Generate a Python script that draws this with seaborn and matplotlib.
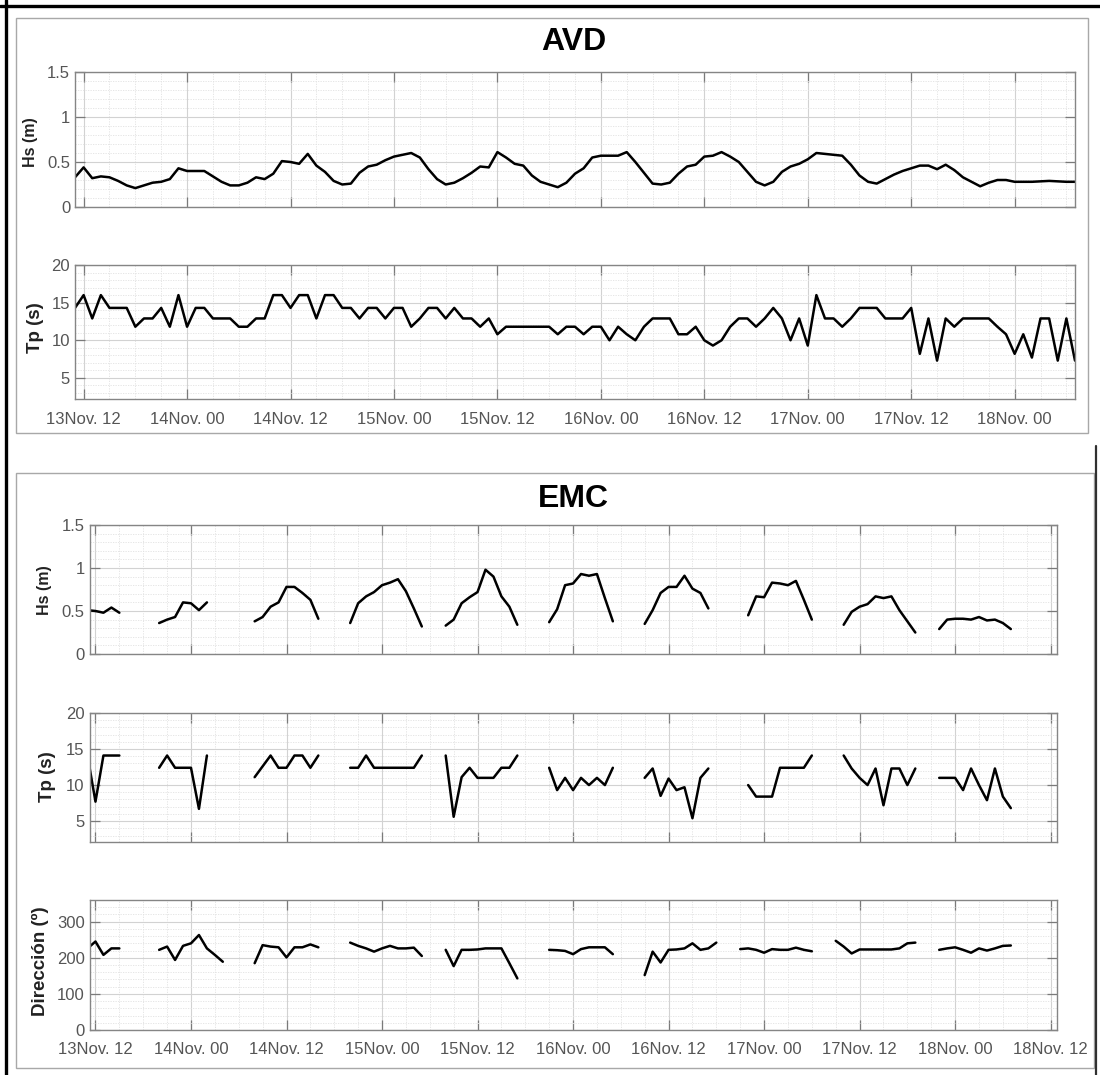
import numpy as np
import pandas as pd
import matplotlib
matplotlib.use("Agg")
import matplotlib.pyplot as plt
import matplotlib.dates as mdates
from matplotlib.ticker import MultipleLocator, FuncFormatter
from matplotlib.lines import Line2D
from matplotlib.patches import Rectangle
import seaborn as sns

# ------------------------------------------------------------------ data
ref_time = pd.Timestamp("2012-11-13 12:00")   # hour 0 = 13Nov. 12
avd_start_hour = -1                              # hourly series

avd_hs = [0.33, 0.44, 0.32, 0.34, 0.33, 0.29, 0.24, 0.21, 0.24, 0.27, 0.28, 0.31,
          0.43, 0.40, 0.40, 0.40, 0.34, 0.28, 0.24, 0.24, 0.27, 0.33, 0.31, 0.37,
          0.51, 0.50, 0.48, 0.59, 0.46, 0.39, 0.29, 0.25, 0.26, 0.38, 0.45, 0.47,
          0.52, 0.56, 0.58, 0.60, 0.55, 0.42, 0.31, 0.25, 0.27, 0.32, 0.38, 0.45,
          0.44, 0.61, 0.55, 0.48, 0.46, 0.35, 0.28, 0.25, 0.22, 0.27, 0.37, 0.43,
          0.55, 0.57, 0.57, 0.57, 0.61, 0.50, 0.38, 0.26, 0.25, 0.27, 0.37, 0.45,
          0.47, 0.56, 0.57, 0.61, 0.56, 0.50, 0.39, 0.28, 0.24, 0.28, 0.39, 0.45,
          0.48, 0.53, 0.60, 0.59, 0.58, 0.57, 0.47, 0.35, 0.28, 0.26, 0.31, 0.36,
          0.40, 0.43, 0.46, 0.46, 0.42, 0.47, 0.41, 0.33, 0.28, 0.23, 0.27, 0.30,
          0.30, 0.28, 0.28, 0.28, 0.285, 0.29, 0.285, 0.28, 0.28]

avd_tp = [14.3, 16.0, 12.9, 16.0, 14.3, 14.3, 14.3, 11.8, 12.9, 12.9, 14.3, 11.8,
          16.0, 11.8, 14.3, 14.3, 12.9, 12.9, 12.9, 11.8, 11.8, 12.9, 12.9, 16.0,
          16.0, 14.3, 16.0, 16.0, 12.9, 16.0, 16.0, 14.3, 14.3, 12.9, 14.3, 14.3,
          12.9, 14.3, 14.3, 11.8, 12.9, 14.3, 14.3, 12.9, 14.3, 12.9, 12.9, 11.8,
          12.9, 10.8, 11.8, 11.8, 11.8, 11.8, 11.8, 11.8, 10.8, 11.8, 11.8, 10.8,
          11.8, 11.8, 10.0, 11.8, 10.8, 10.0, 11.8, 12.9, 12.9, 12.9, 10.8, 10.8,
          11.8, 10.0, 9.3, 10.0, 11.8, 12.9, 12.9, 11.8, 12.9, 14.3, 12.9, 10.0,
          12.9, 9.3, 16.0, 12.9, 12.9, 11.8, 12.9, 14.3, 14.3, 14.3, 12.9, 12.9,
          12.9, 14.3, 8.2, 12.9, 7.3, 12.9, 11.8, 12.9, 12.9, 12.9, 12.9, 11.8,
          10.8, 8.2, 10.8, 7.7, 12.9, 12.9, 7.3, 12.9, 7.3]

# EMC: hourly bursts (one per low tide); start hour of each burst
emc_starts = [-1, 8, 20, 32, 44, 57, 69, 82, 94, 106]
emc_hs = [
    [0.51, 0.50, 0.48, 0.54, 0.48],
    [0.36, 0.40, 0.43, 0.60, 0.59, 0.51, 0.60],
    [0.38, 0.43, 0.55, 0.60, 0.78, 0.78, 0.71, 0.63, 0.41],
    [0.36, 0.59, 0.67, 0.72, 0.80, 0.83, 0.87, 0.73, 0.53, 0.32],
    [0.33, 0.40, 0.59, 0.66, 0.72, 0.98, 0.90, 0.67, 0.55, 0.34],
    [0.37, 0.52, 0.80, 0.82, 0.93, 0.91, 0.93, 0.65, 0.38],
    [0.35, 0.51, 0.71, 0.78, 0.78, 0.91, 0.76, 0.71, 0.53],
    [0.45, 0.67, 0.66, 0.83, 0.82, 0.80, 0.85, 0.63, 0.40],
    [0.34, 0.49, 0.55, 0.58, 0.67, 0.65, 0.67, 0.51, 0.38, 0.25],
    [0.29, 0.40, 0.41, 0.41, 0.40, 0.43, 0.39, 0.40, 0.36, 0.29],
]
emc_tp = [
    [14.1, 7.7, 14.1, 14.1, 14.1],
    [12.4, 14.1, 12.4, 12.4, 12.4, 6.7, 14.1],
    [11.1, 12.6, 14.1, 12.4, 12.4, 14.1, 14.1, 12.4, 14.1],
    [12.4, 12.4, 14.1, 12.4, 12.4, 12.4, 12.4, 12.4, 12.4, 14.1],
    [14.1, 5.6, 11.1, 12.4, 11.0, 11.0, 11.0, 12.4, 12.4, 14.1],
    [12.4, 9.3, 11.0, 9.3, 11.0, 10.0, 11.0, 10.0, 12.4],
    [11.0, 12.3, 8.5, 10.9, 9.3, 9.7, 5.4, 11.0, 12.3],
    [10.0, 8.4, 8.4, 8.4, 12.4, 12.4, 12.4, 12.4, 14.1],
    [14.1, 12.3, 11.0, 10.0, 12.3, 7.2, 12.3, 12.3, 10.0, 12.3],
    [11.0, 11.0, 11.0, 9.3, 12.3, 10.0, 7.9, 12.3, 8.4, 6.8],
]
emc_dir_starts = [-1, 8, 20, 32, 44, 57, 69, 81, 93, 106]
emc_dir = [
    [226, 245, 208, 226, 226],
    [222, 231, 194, 233, 240, 263, 226, 208, 189],
    [185, 235, 231, 229, 201, 229, 229, 237, 229],
    [242, 233, 226, 217, 226, 233, 226, 226, 228, 205],
    [222, 177, 222, 222, 223, 226, 226, 226, 185, 143],
    [222, 221, 219, 210, 224, 229, 229, 229, 210],
    [152, 217, 187, 222, 223, 226, 240, 222, 226, 242],
    [224, 226, 222, 214, 224, 222, 222, 228, 222, 218],
    [247, 231, 212, 223, 223, 223, 223, 223, 226, 240, 242],
    [222, 226, 229, 222, 214, 226, 220, 226, 233, 234],
]

titles = ["AVD", "EMC"]
ylabels_avd = ["Hs (m)", "Tp (s)"]
ylabels_emc = ["Hs (m)", "Tp (s)", "Dirección (º)"]

# ------------------------------------------------------------------ frames
hours = np.arange(len(avd_hs)) + avd_start_hour
avd_df = pd.DataFrame({"time": ref_time + pd.to_timedelta(hours, unit="h"),
                       "hs": avd_hs, "tp": avd_tp})


def burst_frame(starts, segments, name):
    rows = []
    for k, (s, seg) in enumerate(zip(starts, segments)):
        for i, v in enumerate(seg):
            rows.append({"time": ref_time + pd.Timedelta(hours=s + i),
                         name: v, "burst": k})
    return pd.DataFrame(rows)


emc_hs_df = burst_frame(emc_starts, emc_hs, "hs")
emc_tp_df = burst_frame(emc_starts, emc_tp, "tp")
emc_dir_df = burst_frame(emc_dir_starts, emc_dir, "dir")

# ------------------------------------------------------------------ style
sns.set_theme(style="white")
plt.rcParams["font.family"] = ["Liberation Sans", "DejaVu Sans"]

W, H = 1100, 1075
fig = plt.figure(figsize=(W / 100, H / 100), dpi=100)


def rect(x0, y0, x1, y1):
    return [x0 / W, 1 - y1 / H, (x1 - x0) / W, (y1 - y0) / H]


# outer black lines and panel frames
fig.add_artist(Line2D([6 / W, 6 / W], [0, 1], color="black", lw=2.4,
                      transform=fig.transFigure))
fig.add_artist(Line2D([0, 1], [1 - 6 / H, 1 - 6 / H], color="black", lw=2.4,
                      transform=fig.transFigure))
fig.add_artist(Line2D([1096 / W, 1096 / W], [0, 1 - 446 / H], color="#303030",
                      lw=1.6, transform=fig.transFigure))
for (x0, y0, x1, y1) in [(16, 18, 1088, 433), (16, 473, 1094, 1068)]:
    r = rect(x0, y0, x1, y1)
    fig.add_artist(Rectangle((r[0], r[1]), r[2], r[3], fill=False,
                             ec="#a8a8a8", lw=1.0, transform=fig.transFigure))

gfmt = FuncFormatter(lambda v, p: f"{v:g}")


def style_axes(ax, xlim, ylim, ymaj, ymin, show_x, xpad):
    ax.set_xlim(ref_time + pd.Timedelta(hours=xlim[0]),
                ref_time + pd.Timedelta(hours=xlim[1]))
    ax.set_ylim(*ylim)
    ax.xaxis.set_major_locator(mdates.HourLocator(byhour=[0, 12]))
    ax.xaxis.set_minor_locator(mdates.HourLocator(byhour=list(range(0, 24, 3))))
    ax.xaxis.set_major_formatter(mdates.DateFormatter("%d%b. %H"))
    ax.yaxis.set_major_locator(MultipleLocator(ymaj))
    ax.yaxis.set_minor_locator(MultipleLocator(ymin))
    ax.yaxis.set_major_formatter(gfmt)
    ax.set_axisbelow(True)
    ax.grid(which="major", color="#d2d2d2", lw=0.8, ls="-")
    ax.grid(which="minor", color="#e2e2e2", lw=0.6, ls=(0, (1.5, 1.5)))
    ax.tick_params(which="major", direction="in", length=7, width=0.9,
                   color="#7a7a7a", top=True, right=True, bottom=True, left=True,
                   labelsize=12, labelcolor="#555555")
    ax.tick_params(axis="x", which="major", pad=xpad)
    ax.tick_params(axis="y", which="major", pad=3.5)
    ax.tick_params(which="minor", length=0)
    ax.tick_params(labelbottom=show_x)
    for s in ax.spines.values():
        s.set_color("#858585")
        s.set_linewidth(1.0)
    ax.set_xlabel("")
    ax.set_ylabel("")


line_kw = dict(color="black", linewidth=1.8)

# ---- AVD
ax1 = fig.add_axes(rect(75, 72, 1075, 207))
sns.lineplot(data=avd_df, x="time", y="hs", ax=ax1, **line_kw)
style_axes(ax1, (-1.0, 115.0), (0, 1.5), 0.5, 0.1, False, 9)

ax2 = fig.add_axes(rect(75, 265, 1075, 399))
sns.lineplot(data=avd_df, x="time", y="tp", ax=ax2, **line_kw)
style_axes(ax2, (-1.0, 115.0), (2.2, 20), 5, 1, True, 9)

# ---- EMC
ax3 = fig.add_axes(rect(89.5, 525, 1057, 654))
sns.lineplot(data=emc_hs_df, x="time", y="hs", units="burst", estimator=None,
             ax=ax3, **line_kw)
style_axes(ax3, (-0.75, 120.8), (0, 1.5), 0.5, 0.1, False, 9)

ax4 = fig.add_axes(rect(89.5, 713, 1057, 842))
sns.lineplot(data=emc_tp_df, x="time", y="tp", units="burst", estimator=None,
             ax=ax4, **line_kw)
style_axes(ax4, (-0.75, 120.8), (2.1, 20), 5, 1, False, 9)

ax5 = fig.add_axes(rect(89.5, 900, 1057, 1030))
sns.lineplot(data=emc_dir_df, x="time", y="dir", units="burst", estimator=None,
             ax=ax5, **line_kw)
style_axes(ax5, (-0.75, 120.8), (0, 360), 100, 20, True, 8.5)

# ---- titles and y labels
fig.text(574 / W, 1 - 42 / H, titles[0], ha="center", va="center",
         fontsize=23, fontweight="bold", color="black")
fig.text(573 / W, 1 - 499 / H, titles[1], ha="center", va="center",
         fontsize=23, fontweight="bold", color="black")

ylab_kw = dict(rotation=90, ha="center", va="center", fontweight="bold",
               color="#222222")
fig.text(30 / W, 1 - 142 / H, ylabels_avd[0], fontsize=11.5, **ylab_kw)
fig.text(36 / W, 1 - 328 / H, ylabels_avd[1], fontsize=13.5, **ylab_kw)
fig.text(44 / W, 1 - 590 / H, ylabels_emc[0], fontsize=11.5, **ylab_kw)
fig.text(47 / W, 1 - 777 / H, ylabels_emc[1], fontsize=13.5, **ylab_kw)
fig.text(40 / W, 1 - 961 / H, ylabels_emc[2], fontsize=13.5, **ylab_kw)

fig.savefig("out.png", dpi=100, facecolor="white")
